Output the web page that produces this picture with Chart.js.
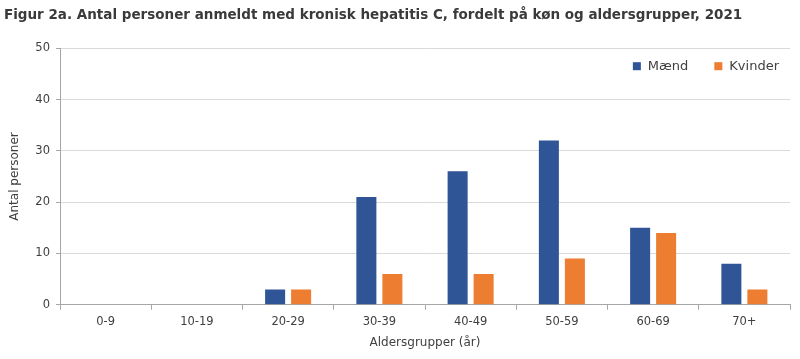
<!DOCTYPE html>
<html>
<head>
<meta charset="utf-8">
<script src="https://cdn.jsdelivr.net/npm/chart.js@4"></script>
<style>
  html, body { margin: 0; padding: 0; background: #fff; }
  #wrap { width: 800px; height: 359px; }
</style>
</head>
<body>
<div id="wrap"><canvas id="chart"></canvas></div>
<script>
const ageGroups = ['0-9', '10-19', '20-29', '30-39', '40-49', '50-59', '60-69', '70+'];
const maend = [0, 0, 3, 21, 26, 32, 15, 8];
const kvinder = [0, 0, 3, 6, 6, 9, 14, 3];

const textColor = '#404040';
const fontFamily = '"DejaVu Sans", sans-serif';

Chart.defaults.font.family = fontFamily;
Chart.defaults.color = textColor;

// legend drawn inside the plot, top right
const insideLegend = {
    id: 'insideLegend',
    afterDraw(chart) {
        const c = chart.ctx;
        const area = chart.chartArea;
        c.save();
        c.font = '13px ' + fontFamily;
        c.textBaseline = 'middle';
        const y = area.top + 18;
        let x = area.right - 11;
        const items = chart.data.datasets.slice().reverse();
        items.forEach((ds) => {
            const w = c.measureText(ds.label).width;
            x -= w;
            c.fillStyle = textColor;
            c.fillText(ds.label, x, y);
            x -= 15;
            c.fillStyle = ds.backgroundColor;
            c.fillRect(x, y - 4, 8, 8);
            x -= 26;
        });
        c.restore();
    }
};

const ctx = document.getElementById('chart').getContext('2d');
const chart = new Chart(ctx, {
    type: 'bar',
    data: {
        labels: ageGroups,
        datasets: [
            {
                label: 'Mænd',
                data: maend,
                backgroundColor: '#2F5597',
                barPercentage: 0.77,
                categoryPercentage: 0.57
            },
            {
                label: 'Kvinder',
                data: kvinder,
                backgroundColor: '#ED7D31',
                barPercentage: 0.77,
                categoryPercentage: 0.57
            }
        ]
    },
    options: {
        responsive: true,
        maintainAspectRatio: false,
        animation: false,
        layout: {
            padding: { left: 4, right: 10, top: 0, bottom: 5 }
        },
        plugins: {
            title: {
                display: true,
                text: 'Figur 2a. Antal personer anmeldt med kronisk hepatitis C, fordelt på køn og aldersgrupper, 2021',
                align: 'start',
                color: '#3a3a3a',
                font: { size: 13.5, weight: 'bold' },
                padding: { top: 7, bottom: 25 }
            },
            legend: { display: false },
            tooltip: { enabled: false }
        },
        scales: {
            x: {
                grid: {
                    offset: true,
                    drawOnChartArea: false,
                    color: '#a6a6a6',
                    tickLength: 5
                },
                border: { color: '#a6a6a6' },
                ticks: { font: { size: 11.5 }, color: textColor, padding: 5 },
                title: {
                    display: true,
                    text: 'Aldersgrupper (år)',
                    font: { size: 12 },
                    color: textColor,
                    padding: { top: 2 }
                }
            },
            y: {
                min: 0,
                max: 50,
                ticks: { stepSize: 10, font: { size: 11.5 }, color: textColor, padding: 6 },
                grid: {
                    color: '#d9d9d9',
                    tickColor: '#a6a6a6',
                    tickLength: 4
                },
                border: { color: '#a6a6a6' },
                title: {
                    display: true,
                    text: 'Antal personer',
                    font: { size: 12 },
                    color: textColor,
                    padding: { bottom: 4 }
                },
                afterFit: (scale) => { scale.width = 56; }
            }
        }
    },
    plugins: [insideLegend]
});
</script>
</body>
</html>
